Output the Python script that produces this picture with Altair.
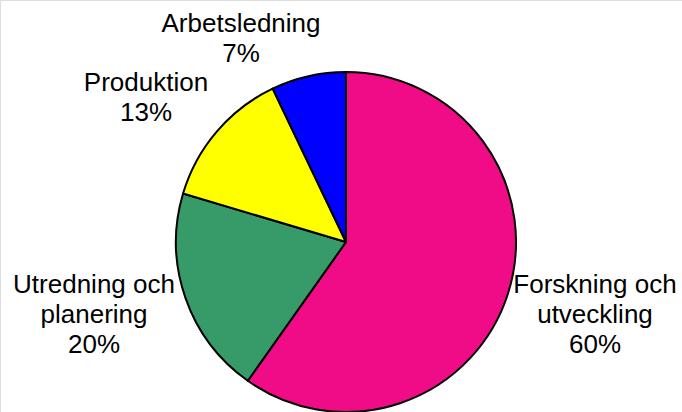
import altair as alt
import pandas as pd

# Data
categories = ["Forskning och utveckling", "Utredning och planering", "Produktion", "Arbetsledning"]
shares = [59.8, 19.8, 13.3, 7.1]
label_text = ["Forskning och\nutveckling", "Utredning och\nplanering", "Produktion", "Arbetsledning"]

# Styles / layout (kept separate from data)
colors = ["#F00C86", "#379A69", "#FFFF00", "#0000FF"]
label_x = [595, 94, 146, 241]
label_y = [293, 293, 91, 32]

df = pd.DataFrame({
    "category": categories,
    "share": shares,
    "order": list(range(len(categories))),
})

lab = pd.DataFrame({
    "category": categories,
    "share": shares,
    "name": label_text,
    "lx": label_x,
    "ly": label_y,
})
lab["label"] = lab["name"] + "\n" + lab["share"].round().astype(int).astype(str) + "%"

pie = alt.Chart(df).mark_arc(
    stroke="black", strokeWidth=2, outerRadius=170, strokeJoin="round"
).encode(
    theta=alt.Theta("share:Q", stack=True),
    order=alt.Order("order:Q"),
    color=alt.Color("category:N", scale=alt.Scale(domain=categories, range=colors), legend=None),
    x=alt.value(346),
    y=alt.value(242),
)

labels = alt.Chart(lab).mark_text(
    font="Liberation Sans", fontSize=26, lineBreak="\n", lineHeight=30,
    align="center", baseline="alphabetic", color="black"
).encode(
    x=alt.X("lx:Q", scale=None),
    y=alt.Y("ly:Q", scale=None),
    text="label:N",
)

chart = alt.layer(pie, labels).properties(
    width=682, height=412, padding=0, autosize=alt.AutoSizeParams(type="none")
).configure_view(stroke=None).configure(background="white")

chart.save("out.html", embed_options={"renderer": "svg", "actions": False})
